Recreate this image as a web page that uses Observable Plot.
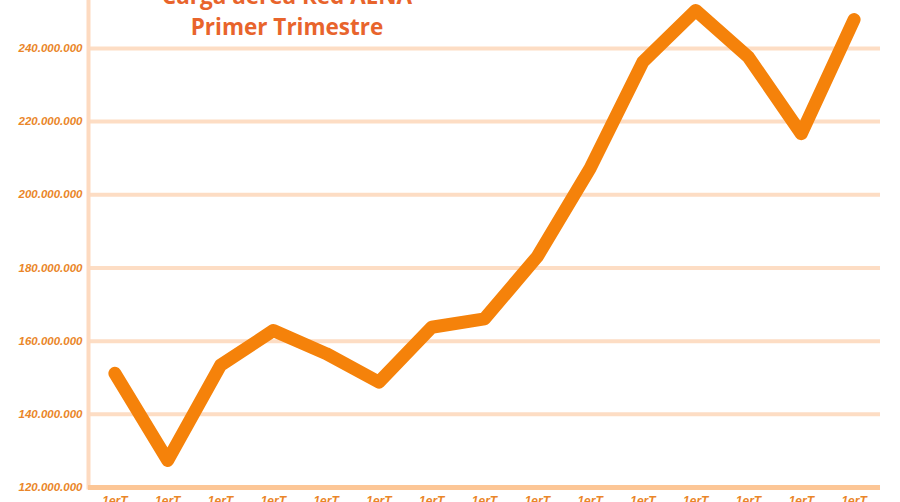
<!DOCTYPE html>
<html>
<head>
<meta charset="utf-8">
<script src="https://cdn.jsdelivr.net/npm/d3@7"></script>
<script src="https://cdn.jsdelivr.net/npm/@observablehq/plot@0.6"></script>
<style>
  html, body { margin: 0; padding: 0; background: #fff; overflow: hidden; }
  #wrap { position: relative; width: 900px; height: 502px; overflow: hidden; }
  #title {
    position: absolute; left: 87px; width: 400px; top: -20px;
    text-align: center; font-family: "Open Sans", sans-serif; font-weight: 700;
    font-size: 22.5px; line-height: 31px; color: #E8642C; z-index: 2;
  }
  #chart { position: absolute; left: 0; top: 0; }
</style>
</head>
<body>
<div id="wrap">
  <div id="chart"></div>
  <div id="title">Carga aérea Red AENA<br>Primer Trimestre</div>
</div>
<script>
const years = [2008, 2009, 2010, 2011, 2012, 2013, 2014, 2015, 2016, 2017, 2018, 2019, 2020, 2021, 2022];
const carga = [151.2e6, 127.4e6, 153.4e6, 162.9e6, 156.6e6, 148.8e6, 163.8e6, 166.1e6, 183.1e6, 207.2e6, 236.3e6, 250.4e6, 237.6e6, 216.7e6, 247.9e6];
const xLabel = "1erT";
const yTicks = [120e6, 140e6, 160e6, 180e6, 200e6, 220e6, 240e6];

const data = years.map((y, i) => ({year: y, value: carga[i]}));
const fmt = d3.formatLocale({decimal: ",", thousands: ".", grouping: [3], currency: ["", "€"]}).format(",");

const chart = Plot.plot({
  width: 900,
  height: 520,
  marginLeft: 88,
  marginRight: 20,
  marginTop: 0,
  marginBottom: 33,
  style: {background: "#fff", overflow: "visible"},
  x: {type: "point", domain: years, padding: 0.5, round: false, label: null},
  y: {domain: [120e6, 253.1e6], label: null},
  marks: [
    Plot.ruleY(yTicks.filter(d => d > 120e6), {stroke: "#FDDDC4", strokeWidth: 4}),
    Plot.frame({anchor: "left", stroke: "#FDDAC0", strokeWidth: 4}),
    Plot.ruleY([120e6], {stroke: "#FCC696", strokeWidth: 5}),
    Plot.axisY({
      ticks: yTicks, tickSize: 0, tickPadding: 6, tickFormat: fmt,
      fill: "#EA8629", fontSize: 11.5, fontWeight: "bold", fontStyle: "italic",
      fontFamily: "Liberation Sans, Arial, sans-serif", label: null
    }),
    Plot.axisX({
      tickSize: 0, tickPadding: 9, tickFormat: () => xLabel,
      fill: "#EA8629", fontSize: 12, fontWeight: "bold", fontStyle: "italic",
      fontFamily: "Liberation Sans, Arial, sans-serif", label: null
    }),
    Plot.line(data, {x: "year", y: "value", stroke: "#F5820A", strokeWidth: 13, strokeLinecap: "round", strokeLinejoin: "round"})
  ]
});
document.getElementById("chart").appendChild(chart);
</script>
</body>
</html>
